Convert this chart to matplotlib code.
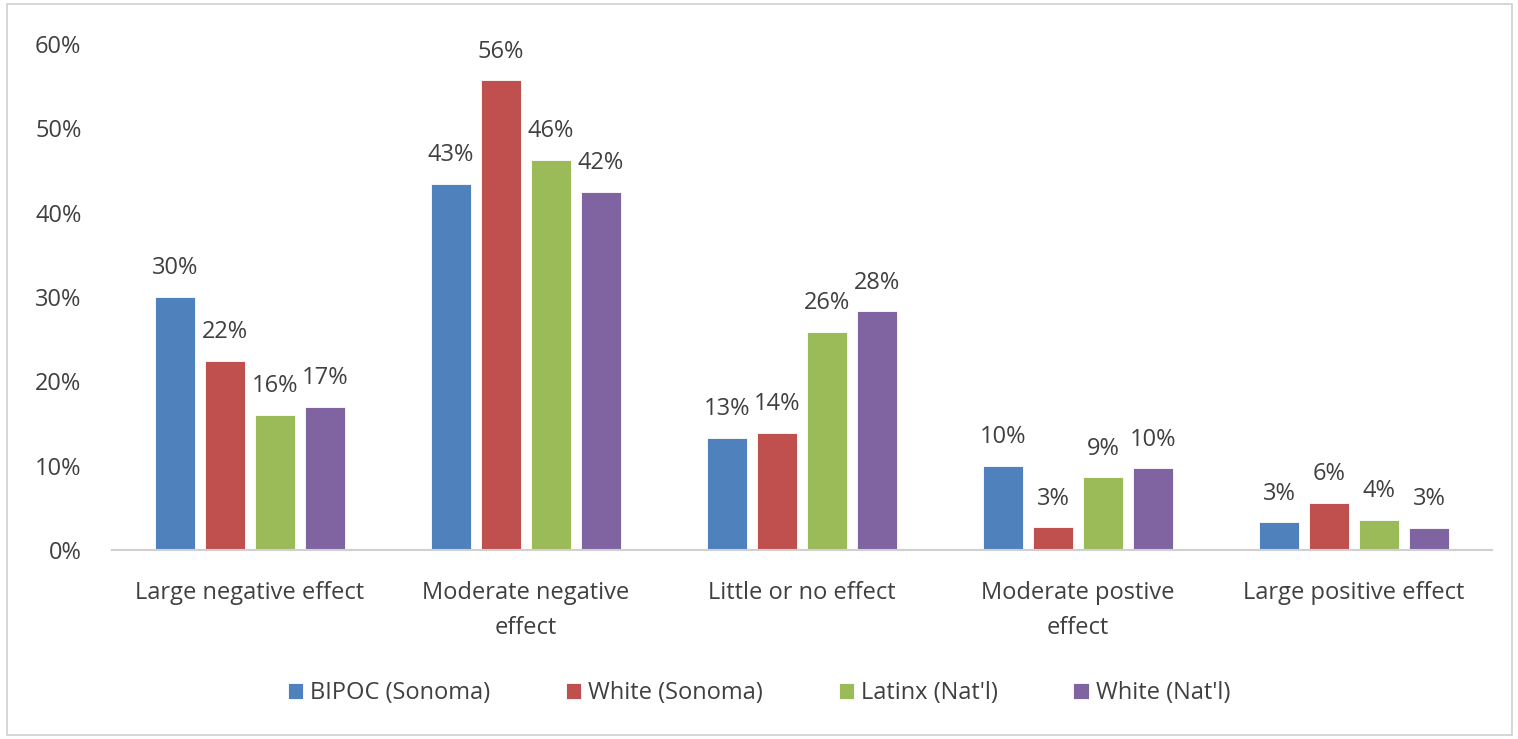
import matplotlib.pyplot as plt
import numpy as np
from matplotlib.patches import Rectangle

plt.rcParams['font.family'] = ['Open Sans', 'DejaVu Sans']

categories = ['Large negative effect', 'Moderate negative\neffect', 'Little or no effect',
              'Moderate postive\neffect', 'Large positive effect']
series = ['BIPOC (Sonoma)', 'White (Sonoma)', 'Latinx (Nat\'l)', 'White (Nat\'l)']
colors = ['#4F81BD', '#C0504D', '#9BBB59', '#8064A2']

bipoc_sonoma = [30.0, 43.4, 13.3, 10.0, 3.3]
white_sonoma = [22.4, 55.7, 13.9, 2.7, 5.6]
latinx_natl = [16.0, 46.3, 25.9, 8.6, 3.6]
white_natl = [17.0, 42.5, 28.3, 9.7, 2.6]
values = [bipoc_sonoma, white_sonoma, latinx_natl, white_natl]

text_color = '#404040'
fs = 17

fig = plt.figure(figsize=(15.18, 7.39), dpi=100)
ax = fig.add_axes([112 / 1518, 1 - 550 / 739, 1380 / 1518, 506 / 739])

# light frame round the whole chart
fig.patches.append(Rectangle((7 / 1518, 4 / 739), 1505 / 1518, 731 / 739,
                             transform=fig.transFigure, fill=False,
                             edgecolor='#D0D0D0', linewidth=1.2))

x = np.arange(len(categories))
width = 0.145
step = 0.181
for i, (vals, col) in enumerate(zip(values, colors)):
    pos = x + (i - 1.5) * step
    ax.bar(pos, vals, width, color=col, edgecolor='white', linewidth=0.6,
           label=series[i], zorder=2)
    for px, v in zip(pos, vals):
        ax.annotate('{0:.0f}%'.format(v), (px, v), xytext=(0, 12),
                    textcoords='offset points', ha='center', va='bottom',
                    fontsize=fs, color=text_color)

ax.set_xlim(-0.5, len(categories) - 0.5)
ax.set_ylim(0, 60)
ax.set_yticks(np.arange(0, 61, 10))
ax.set_yticklabels(['{0}%'.format(t) for t in range(0, 61, 10)])
ax.set_xticks(x)
ax.set_xticklabels(categories, linespacing=1.65)

for side in ['top', 'right', 'left']:
    ax.spines[side].set_visible(False)
ax.spines['bottom'].set_color('#D0D0D0')
ax.spines['bottom'].set_linewidth(1.5)
ax.tick_params(axis='both', length=0, labelsize=fs, colors=text_color)
ax.tick_params(axis='y', pad=22)
ax.tick_params(axis='x', pad=22)

fig.legend(loc='center', bbox_to_anchor=(0.5, 1 - 693 / 739), ncol=4, frameon=False,
           fontsize=fs, labelcolor=text_color, handlelength=0.65, handleheight=0.65,
           handletextpad=0.3, columnspacing=3.2)

fig.savefig('out.png', dpi=100)
